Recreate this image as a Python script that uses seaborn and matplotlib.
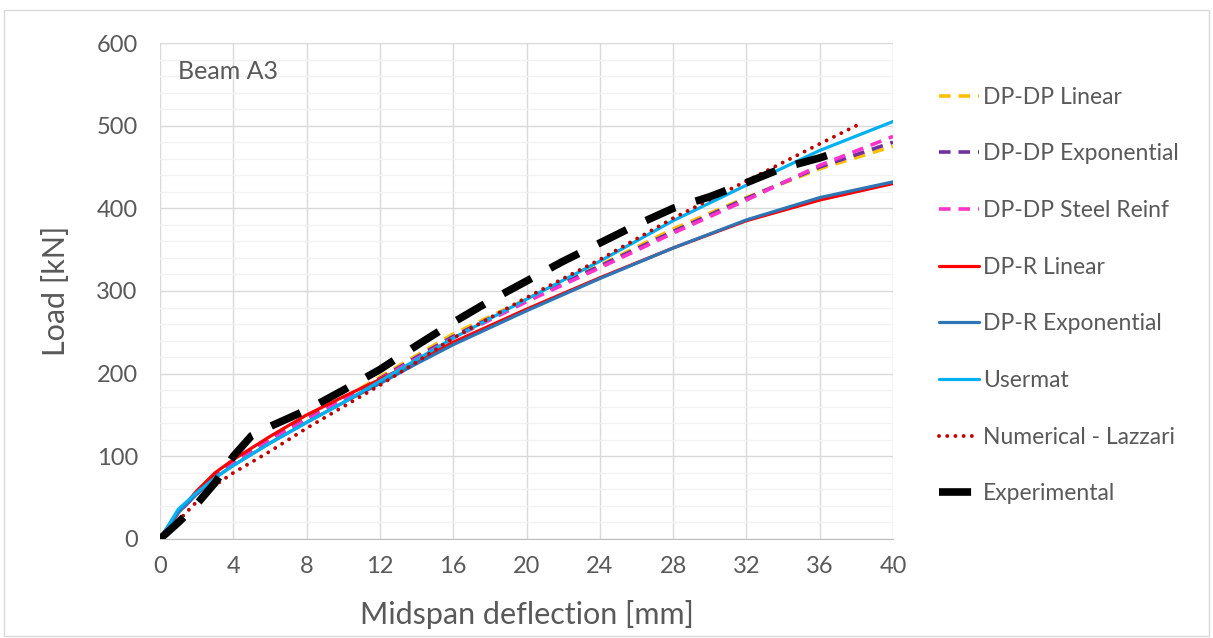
import matplotlib
matplotlib.use("Agg")
import matplotlib.pyplot as plt
import seaborn as sns
import pandas as pd
from matplotlib.ticker import MultipleLocator

# deflection [mm] / load [kN]
x_dpdp_lin = [0, 1, 2, 3, 4, 6, 8, 10, 12, 14, 16, 20, 24, 28, 32, 36, 40]
y_dpdp_lin = [0, 32, 55, 75, 92, 120, 146, 170, 196, 222, 248, 290, 331, 375, 413, 448, 475]

x_dpdp_exp = [0, 1, 2, 3, 4, 6, 8, 10, 12, 14, 16, 20, 24, 28, 32, 36, 40]
y_dpdp_exp = [0, 32, 55, 75, 92, 120, 145, 169, 194, 220, 245, 289, 330, 372, 412, 450, 480]

x_dpdp_steel = [0, 1, 2, 3, 4, 6, 8, 10, 12, 14, 16, 20, 24, 28, 32, 36, 40]
y_dpdp_steel = [0, 32, 54, 74, 91, 119, 144, 168, 193, 218, 243, 287, 328, 370, 410, 452, 487]

x_dpr_lin = [0, 1, 2, 3, 4, 6, 8, 10, 12, 14, 16, 20, 24, 28, 32, 36, 40]
y_dpr_lin = [0, 32, 58, 80, 96, 124, 150, 172, 193, 215, 238, 278, 316, 352, 385, 410, 430]

x_dpr_exp = [0, 1, 2, 3, 4, 6, 8, 10, 12, 14, 16, 20, 24, 28, 32, 36, 40]
y_dpr_exp = [0, 32, 54, 74, 89, 116, 141, 165, 188, 212, 235, 276, 315, 352, 386, 413, 432]

x_usermat = [0, 1, 2, 3, 4, 6, 8, 10, 12, 14, 16, 20, 24, 28, 32, 36, 40]
y_usermat = [0, 36, 56, 74, 89, 116, 141, 165, 191, 217, 243, 290, 336, 385, 428, 470, 505]

x_lazzari = [0, 1, 2, 3, 4, 6, 8, 10, 12, 14, 16, 20, 24, 28, 32, 36, 38]
y_lazzari = [0, 22, 45, 65, 80, 106, 134, 160, 186, 214, 243, 292, 338, 388, 433, 478, 500]

x_exp = [0, 1, 2, 3, 4, 5, 6, 8, 10, 12, 14, 16, 18, 20, 22, 24, 26, 28, 30, 32, 34, 36, 37.5]
y_exp = [0, 20, 42, 68, 100, 125, 136, 156, 180, 205, 234, 262, 288, 312, 336, 358, 380, 400, 414, 431, 449, 461, 472]

grey = "#595959"
series = [
    ("DP-DP Linear", x_dpdp_lin, y_dpdp_lin, "#ffc000", 2.6, (3.2, 2.2)),
    ("DP-DP Exponential", x_dpdp_exp, y_dpdp_exp, "#7030a0", 2.6, (3.2, 2.2)),
    ("DP-DP Steel Reinf", x_dpdp_steel, y_dpdp_steel, "#ff33cc", 2.6, (3.2, 2.2)),
    ("DP-R Linear", x_dpr_lin, y_dpr_lin, "#ff0000", 2.3, None),
    ("DP-R Exponential", x_dpr_exp, y_dpr_exp, "#2e75b6", 2.3, None),
    ("Usermat", x_usermat, y_usermat, "#00b0f0", 2.3, None),
    ("Numerical - Lazzari", x_lazzari, y_lazzari, "#c00000", 2.8, (0.01, 2.1)),
    ("Experimental", x_exp, y_exp, "#000000", 5.5, (4.2, 2.8)),
]

sns.set_style("white")
plt.rcParams["font.family"] = ["Lato", "DejaVu Sans"]

fig = plt.figure(figsize=(12.13, 6.38), dpi=100)
ax = fig.add_axes([0.1319, 0.1552, 0.6043, 0.7774])

for name, xs, ys, col, lw, dash in series:
    df = pd.DataFrame({"x": xs, "y": ys})
    sns.lineplot(data=df, x="x", y="y", ax=ax, color=col, linewidth=lw,
                 label=name, sort=False)
    l = ax.get_lines()[-1]
    if dash is not None:
        l.set_dashes(dash)
        if dash[0] < 0.1:
            l.set_dash_capstyle("round")
        else:
            l.set_dash_capstyle("butt")

ax.set_xlim(0, 40)
ax.set_ylim(0, 600)
ax.xaxis.set_major_locator(MultipleLocator(4))
ax.yaxis.set_major_locator(MultipleLocator(100))
ax.yaxis.set_minor_locator(MultipleLocator(20))
ax.grid(True, which="major", color="#d9d9d9", linewidth=1)
ax.grid(True, which="minor", axis="y", color="#f2f2f2", linewidth=1)
ax.set_axisbelow(True)

for s in ["top", "right", "left"]:
    ax.spines[s].set_visible(False)
ax.spines["bottom"].set_color("#bfbfbf")
ax.tick_params(axis="both", which="both", labelsize=17, colors=grey, length=0)
ax.tick_params(axis="x", pad=12)
ax.tick_params(axis="y", pad=16)

ax.set_xlabel("Midspan deflection [mm]", fontsize=22, color=grey, labelpad=17)
ax.set_ylabel("Load [kN]", fontsize=22, color=grey, labelpad=19)
ax.text(0.025, 0.965, "Beam A3", transform=ax.transAxes, fontsize=18,
        color=grey, va="top", ha="left")

leg = ax.legend(loc="upper left", bbox_to_anchor=(0.774, 0.864),
                bbox_transform=fig.transFigure, frameon=False, fontsize=16.5,
                labelspacing=1.555, handlelength=1.75, handletextpad=0.18,
                borderpad=0, borderaxespad=0)
for t in leg.get_texts():
    t.set_color(grey)

fig.patches.append(plt.Rectangle((0.003, 0.003), 0.994, 0.982, transform=fig.transFigure,
                                 fill=False, edgecolor="#d9d9d9", linewidth=1))

fig.savefig("out.png", dpi=100)
